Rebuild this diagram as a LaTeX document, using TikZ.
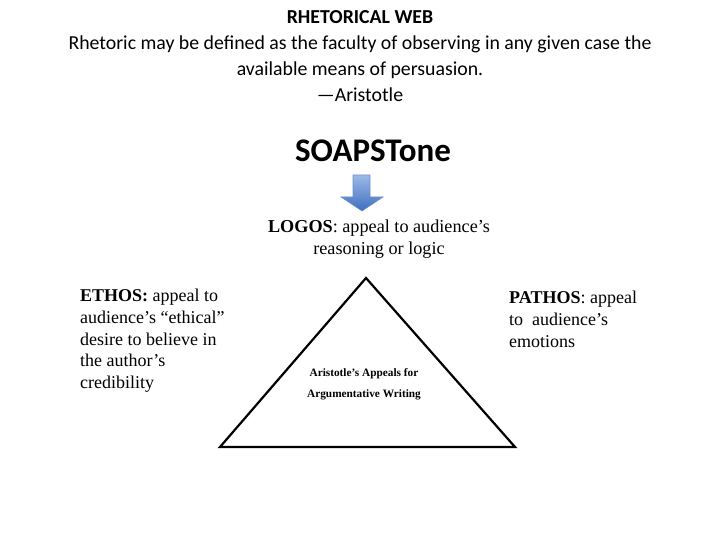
\documentclass[tikz,border=0pt]{standalone}
\usepackage{fontspec}
\setmainfont{Liberation Serif}
\newfontfamily\calfont{Carlito}
\usetikzlibrary{positioning,arrows.meta,calc,shapes.arrows}
\definecolor{ink}{HTML}{000000}
\definecolor{arrowtop}{HTML}{9DB9E6}
\definecolor{arrowbot}{HTML}{3F6FC0}
\definecolor{arrowedge}{HTML}{6D8FC8}

\begin{document}
\begin{tikzpicture}[x=1pt, y=-1pt,
      head/.style={font=\calfont\fontsize{19.8}{26}\selectfont, align=center, text=ink},
      appeal/.style={font=\fontsize{18}{21.7}\selectfont, align=left, text=ink, inner sep=0pt},
      side/.style={draw=ink, line width=2.2pt, line join=miter},
    ]
      \useasboundingbox (0,0) rectangle (720,540);
      % quote at the top
      \node[head, anchor=north] (quote) at (360,7)
        {\textbf{RHETORICAL WEB}\\
         Rhetoric may be defined as the faculty of observing in any given case the\\
         available means of persuasion.\\
         —Aristotle};
      \node[font=\calfont\bfseries\fontsize{33}{36}\selectfont] (soap) at (373,151) {SOAPSTone};
      % block arrow
      \path[top color=arrowtop, bottom color=arrowbot, draw=arrowedge, line width=0.6pt]
        (353,175) -- (370,175) -- (370,197) -- (383,197) -- (362,211)
        -- (341,197) -- (353,197) -- cycle;
      \coordinate (tip) at (362,211);
      % the three appeals
      \node[appeal, font=\fontsize{18.2}{21.7}\selectfont, align=center, anchor=north] (logos) at (379,220)
        {\textbf{LOGOS}: appeal to audience's\\ reasoning or logic};
      \node[appeal, anchor=north west] (ethos) at (80,289)
        {\textbf{ETHOS:} appeal to\\ audience's ``ethical''\\ desire to believe in\\ the author's\\ credibility};
      \node[appeal, anchor=north west] (pathos) at (509,291)
        {\textbf{PATHOS}: appeal\\ to\ \ audience's\\ emotions};
      % triangle
      \coordinate (apex) at (366,278);
      \coordinate (left) at (220,447);
      \coordinate (right) at (515,447);
      \draw[side] (apex) -- (left) -- (right) -- cycle;
      \node[font=\bfseries\fontsize{11.3}{21}\selectfont, align=center, inner sep=0pt] (inner) at (364,384)
        {Aristotle's Appeals for\\ Argumentative Writing};
    \end{tikzpicture}
\end{document}
